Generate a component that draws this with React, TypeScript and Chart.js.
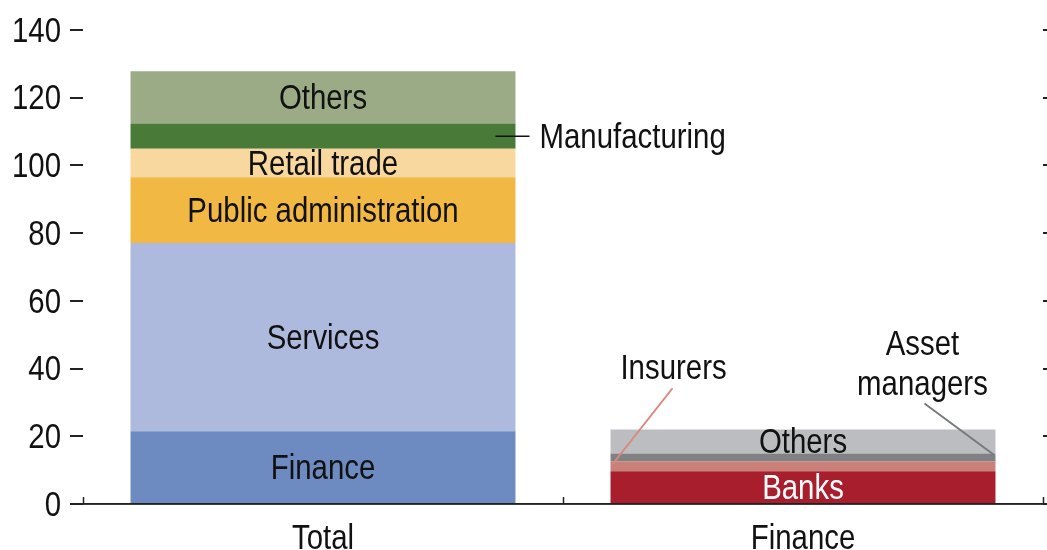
import React, { useEffect, useRef } from 'react';
import { Chart, registerables } from 'chart.js';

Chart.register(...registerables);

// ---- data ----
const categories = ['Total', 'Finance'];
const totalSegments = ['Finance', 'Services', 'Public administration', 'Retail trade', 'Manufacturing', 'Others'];
const totalValues = [21.5, 55.6, 19.4, 8.4, 7.5, 15.4];
const financeSegments = ['Banks', 'Insurers', 'Asset managers', 'Others'];
const financeValues = [9.7, 2.9, 2.3, 7.1];
const yMin = 0;
const yMax = 140;
const yStep = 20;

// ---- styles ----
const totalColors = ['#6d8bc1', '#adb9dd', '#f1b944', '#f8d89e', '#4a7a38', '#9aab85'];
const financeColors = ['#a91e2d', '#c98079', '#7f8184', '#bcbdc0'];
const FONT = '"Liberation Sans", Arial, sans-serif';
const FS = 35;
const SX = 0.84; // horizontal condensing to mimic a narrow face
const TEXT_DY = 2;

type LabelSpec = { mode: 'inside' | 'right' | 'upLeft' | 'upRight'; color: string; lineColor?: string };
const totalLabelSpecs: LabelSpec[] = [
  { mode: 'inside', color: '#111' },
  { mode: 'inside', color: '#111' },
  { mode: 'inside', color: '#111' },
  { mode: 'inside', color: '#111' },
  { mode: 'right', color: '#111', lineColor: '#111' },
  { mode: 'inside', color: '#111' },
];
const financeLabelSpecs: LabelSpec[] = [
  { mode: 'inside', color: '#ffffff' },
  { mode: 'upLeft', color: '#111', lineColor: '#d9887e' },
  { mode: 'upRight', color: '#111', lineColor: '#777a7d' },
  { mode: 'inside', color: '#111' },
];

const datasets: any[] = [];
const specs: LabelSpec[] = [];
totalSegments.forEach((name, i) => {
  datasets.push({
    label: name,
    data: [totalValues[i], null],
    backgroundColor: totalColors[i],
    borderWidth: 0,
    catIndex: 0,
  });
  specs.push(totalLabelSpecs[i]);
});
financeSegments.forEach((name, i) => {
  datasets.push({
    label: name,
    data: [null, financeValues[i]],
    backgroundColor: financeColors[i],
    borderWidth: 0,
    catIndex: 1,
  });
  specs.push(financeLabelSpecs[i]);
});

function drawText(ctx: CanvasRenderingContext2D, text: string, x: number, y: number, align: CanvasTextAlign, color: string) {
  ctx.save();
  ctx.translate(x, y + TEXT_DY);
  ctx.scale(SX, 1);
  ctx.font = `${FS}px ${FONT}`;
  ctx.fillStyle = color;
  ctx.textAlign = align;
  ctx.textBaseline = 'middle';
  ctx.fillText(text, 0, 0);
  ctx.restore();
}

const labelPlugin = {
  id: 'segLabels',
  afterDraw(chart: any) {
    const ctx = chart.ctx;
    const area = chart.chartArea;
    ctx.save();
    // axis extension
    ctx.strokeStyle = '#222';
    ctx.lineWidth = 1.5;
    ctx.beginPath();
    ctx.moveTo(area.left - 13, area.bottom);
    ctx.lineTo(chart.width, area.bottom);
    ctx.stroke();
    // category boundary ticks
    const xs = chart.scales.x;
    const p0 = xs.getPixelForValue(0);
    const p1 = xs.getPixelForValue(1);
    const half = (p1 - p0) / 2;
    [p0 - half, p0 + half, p1 + half].forEach((bx: number) => {
      const x = Math.round(bx) + 0.5;
      ctx.beginPath();
      ctx.moveTo(x, area.bottom);
      ctx.lineTo(x, area.bottom - 7);
      ctx.stroke();
    });

    // y tick labels
    const ys = chart.scales.y;
    ys.ticks.forEach((t: any, i: number) => {
      const py = ys.getPixelForTick(i);
      drawText(ctx, String(t.value), area.left - 13 - 9, py, 'right', '#111');
    });
    // x tick labels
    categories.forEach((c, i) => {
      drawText(ctx, c, xs.getPixelForValue(i), area.bottom + 33, 'center', '#111');
    });

    datasets.forEach((ds, i) => {
      const meta = chart.getDatasetMeta(i);
      const el: any = meta.data[ds.catIndex];
      if (!el) return;
      const top = Math.min(el.y, el.base);
      const bottom = Math.max(el.y, el.base);
      const cy = (top + bottom) / 2;
      const left = el.x - el.width / 2;
      const right = el.x + el.width / 2;
      const spec = specs[i];
      if (spec.mode === 'inside') {
        drawText(ctx, ds.label, el.x, cy, 'center', spec.color);
      } else if (spec.mode === 'right') {
        ctx.strokeStyle = spec.lineColor;
        ctx.lineWidth = 1.5;
        ctx.beginPath();
        ctx.moveTo(right - 20, cy);
        ctx.lineTo(right + 14, cy);
        ctx.stroke();
        drawText(ctx, ds.label, right + 24, cy, 'left', spec.color);
      } else if (spec.mode === 'upLeft') {
        ctx.strokeStyle = spec.lineColor;
        ctx.lineWidth = 2;
        ctx.beginPath();
        ctx.moveTo(left + 62, cy - 78);
        ctx.lineTo(left + 2, cy - 2);
        ctx.stroke();
        drawText(ctx, ds.label, left + 63, cy - 99, 'center', spec.color);
      } else if (spec.mode === 'upRight') {
        ctx.strokeStyle = spec.lineColor;
        ctx.lineWidth = 2;
        ctx.beginPath();
        ctx.moveTo(right - 71, cy - 54);
        ctx.lineTo(right - 2, cy - 3);
        ctx.stroke();
        const words = String(ds.label).split(' ');
        drawText(ctx, words[0], right - 73, cy - 114, 'center', spec.color);
        drawText(ctx, words.slice(1).join(' '), right - 73, cy - 74, 'center', spec.color);
      }
    });
    ctx.restore();
  },
};

export default function App() {
  const ref = useRef<HTMLCanvasElement>(null);
  useEffect(() => {
    if (!ref.current) return;
    const chart = new Chart(ref.current, {
      type: 'bar',
      data: { labels: categories, datasets },
      options: {
        responsive: false,
        animation: false,
        devicePixelRatio: 1,
        categoryPercentage: 1,
        barPercentage: 0.802,
        layout: { padding: { top: 30, left: 0, right: 0, bottom: 0 } },
        plugins: { legend: { display: false }, tooltip: { enabled: false } },
        scales: {
          x: {
            stacked: true,
            offset: true,
            grid: { display: false, drawTicks: false },
            border: { display: true, color: '#222', width: 1.5 },
            ticks: { display: false },
            afterFit: (s: any) => { s.height = 46; },
          },
          y: {
            stacked: true,
            min: yMin,
            max: yMax,
            position: 'left',
            ticks: { stepSize: yStep, display: false },
            grid: { drawOnChartArea: false, drawTicks: true, tickLength: 13, color: '#222', lineWidth: 2 },
            border: { display: false },
            afterFit: (s: any) => { s.width = 83; },
          },
          y2: {
            position: 'right',
            min: yMin,
            max: yMax,
            ticks: { stepSize: yStep, display: false },
            grid: { drawOnChartArea: false, drawTicks: true, tickLength: 13, color: '#222', lineWidth: 2 },
            border: { display: false },
            afterFit: (s: any) => { s.width = 4; },
          },
        },
      } as any,
      plugins: [labelPlugin],
    });
    return () => chart.destroy();
  }, []);
  return (
    <div style={{ position: 'fixed', left: 0, top: 0, width: 1047, height: 550, background: '#fff' }}>
      <canvas ref={ref} width={1047} height={550} style={{ display: 'block' }} />
    </div>
  );
}
